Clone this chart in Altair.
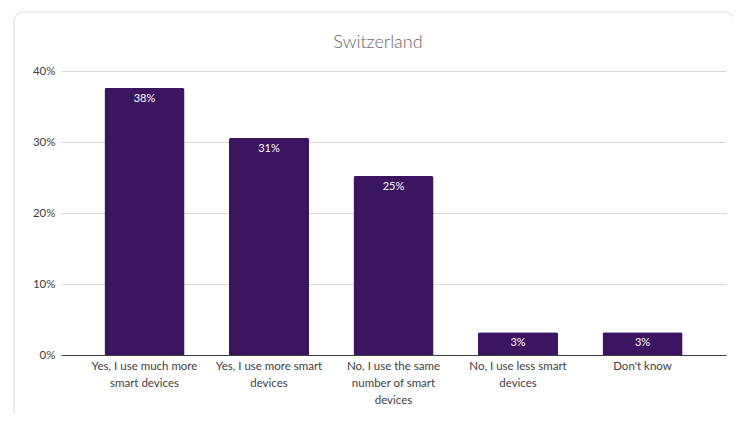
import altair as alt
import pandas as pd

title_text = "Switzerland"
categories = [
    "Yes, I use much more|smart devices",
    "Yes, I use more smart|devices",
    "No, I use the same|number of smart|devices",
    "No, I use less smart|devices",
    "Don't know",
]
values = [37.6, 30.6, 25.2, 3.2, 3.2]

df = pd.DataFrame({"cat": categories, "val": values})

FONT = "Lato"
BAR = "#3b1560"

card = alt.Chart(alt.Data(values=[{}])).mark_rect(
    filled=False, stroke="#e2e2e6", strokeWidth=1.2, cornerRadius=9
).encode(
    x=alt.value(-47), x2=alt.value(673), y=alt.value(-59), y2=alt.value(347)
)

title = alt.Chart(alt.Data(values=[{"t": title_text}])).mark_text(
    font=FONT, fontSize=18, fontWeight=300, color="#666666",
    baseline="alphabetic", align="center"
).encode(x=alt.value(317), y=alt.value(-23), text="t:N")

x = alt.X(
    "cat:N",
    sort=categories,
    scale=alt.Scale(paddingInner=0.357, paddingOuter=0.349),
    axis=alt.Axis(
        title=None,
        labelAngle=0,
        labelExpr="split(datum.label, '|')",
        labelFont=FONT,
        labelFontSize=11.5,
        labelColor="#404040",
        labelLineHeight=17,
        labelPadding=5,
        ticks=False,
        domainColor="#404040",
        domainWidth=1.2,
        labelLimit=200,
    ),
)

y = alt.Y(
    "val:Q",
    scale=alt.Scale(domain=[0, 40], nice=False),
    axis=alt.Axis(
        title=None,
        values=[0, 10, 20, 30, 40],
        labelExpr="datum.value + '%'",
        labelFont=FONT,
        labelFontSize=11.5,
        labelColor="#404040",
        labelPadding=6,
        ticks=False,
        domain=False,
        gridColor="#d9d9d9",
        gridWidth=1.2,
    ),
)

bars = alt.Chart(df).mark_bar(
    color=BAR, cornerRadiusTopLeft=2, cornerRadiusTopRight=2
).encode(x=x, y=y)

labels = alt.Chart(df).transform_calculate(
    lab="format(datum.val, '.0f') + '%'"
).mark_text(
    color="white", font=FONT, fontSize=11, baseline="top", dy=5
).encode(
    x=alt.X("cat:N", sort=categories),
    y=alt.Y("val:Q"),
    text="lab:N",
)

chart = alt.layer(card, title, bars, labels).properties(
    width=665,
    height=284,
    autosize=alt.AutoSizeParams(type="none"),
    padding={"left": 53, "top": 63, "right": 7, "bottom": 58},
    background="white",
).configure_view(stroke=None)

chart.save("out.html", embed_options={"renderer": "svg", "actions": False})
